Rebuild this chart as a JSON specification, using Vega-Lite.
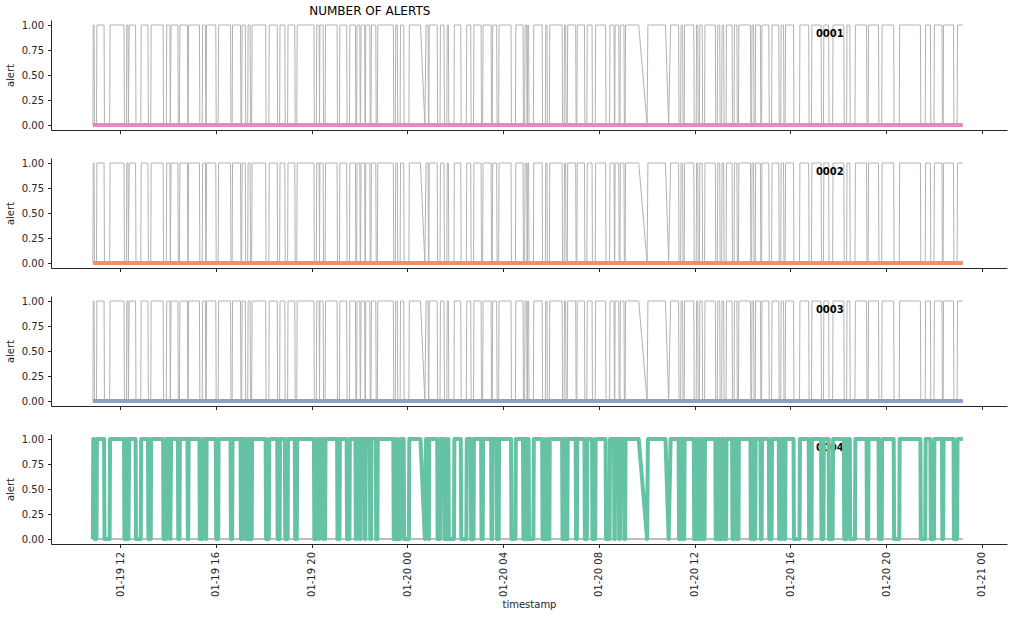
{
"data": {"name": "alerts"},
"datasets": {
"labels": [{"series": "0001"}, {"series": "0002"}, {"series": "0003"}, {"series": "0004"}],
"alerts": [
{"series":"0001","timestamp":"2023-01-19T10:52","alert":0},{"series":"0001","timestamp":"2023-01-20T23:12","alert":0},
{"series":"0002","timestamp":"2023-01-19T10:52","alert":0},{"series":"0002","timestamp":"2023-01-20T23:12","alert":0},
{"series":"0003","timestamp":"2023-01-19T10:52","alert":0},{"series":"0003","timestamp":"2023-01-20T23:12","alert":0},
{"series":"0004","timestamp":"2023-01-19T10:52","alert":0},
{"series":"0004","timestamp":"2023-01-19T10:53","alert":1},
{"series":"0004","timestamp":"2023-01-19T10:55","alert":1},
{"series":"0004","timestamp":"2023-01-19T10:56","alert":0},
{"series":"0004","timestamp":"2023-01-19T11:01","alert":0},
{"series":"0004","timestamp":"2023-01-19T11:02","alert":1},
{"series":"0004","timestamp":"2023-01-19T11:20","alert":1},
{"series":"0004","timestamp":"2023-01-19T11:21","alert":0},
{"series":"0004","timestamp":"2023-01-19T11:34","alert":0},
{"series":"0004","timestamp":"2023-01-19T11:35","alert":1},
{"series":"0004","timestamp":"2023-01-19T12:10","alert":1},
{"series":"0004","timestamp":"2023-01-19T12:11","alert":0},
{"series":"0004","timestamp":"2023-01-19T12:16","alert":0},
{"series":"0004","timestamp":"2023-01-19T12:17","alert":1},
{"series":"0004","timestamp":"2023-01-19T12:20","alert":1},
{"series":"0004","timestamp":"2023-01-19T12:21","alert":0},
{"series":"0004","timestamp":"2023-01-19T12:23","alert":1},
{"series":"0004","timestamp":"2023-01-19T12:39","alert":1},
{"series":"0004","timestamp":"2023-01-19T12:40","alert":0},
{"series":"0004","timestamp":"2023-01-19T12:52","alert":0},
{"series":"0004","timestamp":"2023-01-19T12:53","alert":1},
{"series":"0004","timestamp":"2023-01-19T13:10","alert":1},
{"series":"0004","timestamp":"2023-01-19T13:11","alert":0},
{"series":"0004","timestamp":"2023-01-19T13:17","alert":0},
{"series":"0004","timestamp":"2023-01-19T13:18","alert":1},
{"series":"0004","timestamp":"2023-01-19T13:48","alert":1},
{"series":"0004","timestamp":"2023-01-19T13:49","alert":0},
{"series":"0004","timestamp":"2023-01-19T13:56","alert":0},
{"series":"0004","timestamp":"2023-01-19T13:57","alert":1},
{"series":"0004","timestamp":"2023-01-19T14:05","alert":1},
{"series":"0004","timestamp":"2023-01-19T14:06","alert":0},
{"series":"0004","timestamp":"2023-01-19T14:08","alert":1},
{"series":"0004","timestamp":"2023-01-19T14:25","alert":1},
{"series":"0004","timestamp":"2023-01-19T14:26","alert":0},
{"series":"0004","timestamp":"2023-01-19T14:29","alert":0},
{"series":"0004","timestamp":"2023-01-19T14:30","alert":1},
{"series":"0004","timestamp":"2023-01-19T14:49","alert":1},
{"series":"0004","timestamp":"2023-01-19T14:50","alert":0},
{"series":"0004","timestamp":"2023-01-19T14:51","alert":0},
{"series":"0004","timestamp":"2023-01-19T14:52","alert":1},
{"series":"0004","timestamp":"2023-01-19T15:19","alert":1},
{"series":"0004","timestamp":"2023-01-19T15:20","alert":0},
{"series":"0004","timestamp":"2023-01-19T15:26","alert":0},
{"series":"0004","timestamp":"2023-01-19T15:27","alert":1},
{"series":"0004","timestamp":"2023-01-19T15:34","alert":1},
{"series":"0004","timestamp":"2023-01-19T15:35","alert":0},
{"series":"0004","timestamp":"2023-01-19T15:36","alert":0},
{"series":"0004","timestamp":"2023-01-19T15:37","alert":1},
{"series":"0004","timestamp":"2023-01-19T16:00","alert":1},
{"series":"0004","timestamp":"2023-01-19T16:01","alert":0},
{"series":"0004","timestamp":"2023-01-19T16:06","alert":0},
{"series":"0004","timestamp":"2023-01-19T16:07","alert":1},
{"series":"0004","timestamp":"2023-01-19T16:37","alert":1},
{"series":"0004","timestamp":"2023-01-19T16:38","alert":0},
{"series":"0004","timestamp":"2023-01-19T16:41","alert":0},
{"series":"0004","timestamp":"2023-01-19T16:42","alert":1},
{"series":"0004","timestamp":"2023-01-19T17:02","alert":1},
{"series":"0004","timestamp":"2023-01-19T17:03","alert":0},
{"series":"0004","timestamp":"2023-01-19T17:05","alert":0},
{"series":"0004","timestamp":"2023-01-19T17:06","alert":1},
{"series":"0004","timestamp":"2023-01-19T17:14","alert":1},
{"series":"0004","timestamp":"2023-01-19T17:15","alert":0},
{"series":"0004","timestamp":"2023-01-19T17:20","alert":0},
{"series":"0004","timestamp":"2023-01-19T17:21","alert":1},
{"series":"0004","timestamp":"2023-01-19T17:26","alert":1},
{"series":"0004","timestamp":"2023-01-19T17:27","alert":0},
{"series":"0004","timestamp":"2023-01-19T17:30","alert":0},
{"series":"0004","timestamp":"2023-01-19T17:31","alert":1},
{"series":"0004","timestamp":"2023-01-19T18:05","alert":1},
{"series":"0004","timestamp":"2023-01-19T18:06","alert":0},
{"series":"0004","timestamp":"2023-01-19T18:13","alert":0},
{"series":"0004","timestamp":"2023-01-19T18:14","alert":1},
{"series":"0004","timestamp":"2023-01-19T18:34","alert":1},
{"series":"0004","timestamp":"2023-01-19T18:35","alert":0},
{"series":"0004","timestamp":"2023-01-19T18:40","alert":0},
{"series":"0004","timestamp":"2023-01-19T18:41","alert":1},
{"series":"0004","timestamp":"2023-01-19T18:53","alert":1},
{"series":"0004","timestamp":"2023-01-19T18:54","alert":0},
{"series":"0004","timestamp":"2023-01-19T19:00","alert":0},
{"series":"0004","timestamp":"2023-01-19T19:01","alert":1},
{"series":"0004","timestamp":"2023-01-19T19:18","alert":1},
{"series":"0004","timestamp":"2023-01-19T19:19","alert":0},
{"series":"0004","timestamp":"2023-01-19T19:23","alert":0},
{"series":"0004","timestamp":"2023-01-19T19:24","alert":1},
{"series":"0004","timestamp":"2023-01-19T20:06","alert":1},
{"series":"0004","timestamp":"2023-01-19T20:07","alert":0},
{"series":"0004","timestamp":"2023-01-19T20:12","alert":0},
{"series":"0004","timestamp":"2023-01-19T20:13","alert":1},
{"series":"0004","timestamp":"2023-01-19T20:19","alert":1},
{"series":"0004","timestamp":"2023-01-19T20:20","alert":0},
{"series":"0004","timestamp":"2023-01-19T20:21","alert":1},
{"series":"0004","timestamp":"2023-01-19T20:29","alert":1},
{"series":"0004","timestamp":"2023-01-19T20:30","alert":0},
{"series":"0004","timestamp":"2023-01-19T20:34","alert":0},
{"series":"0004","timestamp":"2023-01-19T20:35","alert":1},
{"series":"0004","timestamp":"2023-01-19T21:04","alert":1},
{"series":"0004","timestamp":"2023-01-19T21:05","alert":0},
{"series":"0004","timestamp":"2023-01-19T21:10","alert":0},
{"series":"0004","timestamp":"2023-01-19T21:11","alert":1},
{"series":"0004","timestamp":"2023-01-19T21:28","alert":1},
{"series":"0004","timestamp":"2023-01-19T21:29","alert":0},
{"series":"0004","timestamp":"2023-01-19T21:35","alert":0},
{"series":"0004","timestamp":"2023-01-19T21:36","alert":1},
{"series":"0004","timestamp":"2023-01-19T21:50","alert":1},
{"series":"0004","timestamp":"2023-01-19T21:51","alert":0},
{"series":"0004","timestamp":"2023-01-19T21:53","alert":0},
{"series":"0004","timestamp":"2023-01-19T21:54","alert":1},
{"series":"0004","timestamp":"2023-01-19T22:01","alert":1},
{"series":"0004","timestamp":"2023-01-19T22:02","alert":0},
{"series":"0004","timestamp":"2023-01-19T22:03","alert":0},
{"series":"0004","timestamp":"2023-01-19T22:04","alert":1},
{"series":"0004","timestamp":"2023-01-19T22:13","alert":1},
{"series":"0004","timestamp":"2023-01-19T22:14","alert":0},
{"series":"0004","timestamp":"2023-01-19T22:15","alert":0},
{"series":"0004","timestamp":"2023-01-19T22:16","alert":1},
{"series":"0004","timestamp":"2023-01-19T22:26","alert":1},
{"series":"0004","timestamp":"2023-01-19T22:27","alert":0},
{"series":"0004","timestamp":"2023-01-19T22:29","alert":0},
{"series":"0004","timestamp":"2023-01-19T22:30","alert":1},
{"series":"0004","timestamp":"2023-01-19T22:41","alert":1},
{"series":"0004","timestamp":"2023-01-19T22:42","alert":0},
{"series":"0004","timestamp":"2023-01-19T22:45","alert":0},
{"series":"0004","timestamp":"2023-01-19T22:46","alert":1},
{"series":"0004","timestamp":"2023-01-19T23:25","alert":1},
{"series":"0004","timestamp":"2023-01-19T23:26","alert":0},
{"series":"0004","timestamp":"2023-01-19T23:30","alert":0},
{"series":"0004","timestamp":"2023-01-19T23:31","alert":1},
{"series":"0004","timestamp":"2023-01-19T23:35","alert":1},
{"series":"0004","timestamp":"2023-01-19T23:36","alert":0},
{"series":"0004","timestamp":"2023-01-19T23:42","alert":0},
{"series":"0004","timestamp":"2023-01-19T23:43","alert":1},
{"series":"0004","timestamp":"2023-01-19T23:51","alert":1},
{"series":"0004","timestamp":"2023-01-19T23:52","alert":0},
{"series":"0004","timestamp":"2023-01-20T00:04","alert":0},
{"series":"0004","timestamp":"2023-01-20T00:05","alert":1},
{"series":"0004","timestamp":"2023-01-20T00:33","alert":1},
{"series":"0004","timestamp":"2023-01-20T00:44","alert":0},
{"series":"0004","timestamp":"2023-01-20T00:47","alert":1},
{"series":"0004","timestamp":"2023-01-20T00:52","alert":1},
{"series":"0004","timestamp":"2023-01-20T00:53","alert":0},
{"series":"0004","timestamp":"2023-01-20T00:54","alert":0},
{"series":"0004","timestamp":"2023-01-20T00:55","alert":1},
{"series":"0004","timestamp":"2023-01-20T01:15","alert":1},
{"series":"0004","timestamp":"2023-01-20T01:16","alert":0},
{"series":"0004","timestamp":"2023-01-20T01:22","alert":0},
{"series":"0004","timestamp":"2023-01-20T01:23","alert":1},
{"series":"0004","timestamp":"2023-01-20T01:32","alert":1},
{"series":"0004","timestamp":"2023-01-20T01:33","alert":0},
{"series":"0004","timestamp":"2023-01-20T01:39","alert":0},
{"series":"0004","timestamp":"2023-01-20T01:40","alert":1},
{"series":"0004","timestamp":"2023-01-20T01:43","alert":1},
{"series":"0004","timestamp":"2023-01-20T01:44","alert":0},
{"series":"0004","timestamp":"2023-01-20T01:57","alert":0},
{"series":"0004","timestamp":"2023-01-20T01:58","alert":1},
{"series":"0004","timestamp":"2023-01-20T02:14","alert":1},
{"series":"0004","timestamp":"2023-01-20T02:15","alert":0},
{"series":"0004","timestamp":"2023-01-20T02:28","alert":0},
{"series":"0004","timestamp":"2023-01-20T02:29","alert":1},
{"series":"0004","timestamp":"2023-01-20T02:39","alert":1},
{"series":"0004","timestamp":"2023-01-20T02:40","alert":0},
{"series":"0004","timestamp":"2023-01-20T02:46","alert":0},
{"series":"0004","timestamp":"2023-01-20T02:47","alert":1},
{"series":"0004","timestamp":"2023-01-20T03:05","alert":1},
{"series":"0004","timestamp":"2023-01-20T03:06","alert":0},
{"series":"0004","timestamp":"2023-01-20T03:09","alert":0},
{"series":"0004","timestamp":"2023-01-20T03:10","alert":1},
{"series":"0004","timestamp":"2023-01-20T03:30","alert":1},
{"series":"0004","timestamp":"2023-01-20T03:31","alert":0},
{"series":"0004","timestamp":"2023-01-20T03:33","alert":0},
{"series":"0004","timestamp":"2023-01-20T03:34","alert":1},
{"series":"0004","timestamp":"2023-01-20T03:44","alert":1},
{"series":"0004","timestamp":"2023-01-20T03:45","alert":0},
{"series":"0004","timestamp":"2023-01-20T03:49","alert":0},
{"series":"0004","timestamp":"2023-01-20T03:50","alert":1},
{"series":"0004","timestamp":"2023-01-20T04:20","alert":1},
{"series":"0004","timestamp":"2023-01-20T04:21","alert":0},
{"series":"0004","timestamp":"2023-01-20T04:31","alert":0},
{"series":"0004","timestamp":"2023-01-20T04:32","alert":1},
{"series":"0004","timestamp":"2023-01-20T04:50","alert":1},
{"series":"0004","timestamp":"2023-01-20T04:51","alert":0},
{"series":"0004","timestamp":"2023-01-20T04:54","alert":0},
{"series":"0004","timestamp":"2023-01-20T04:55","alert":1},
{"series":"0004","timestamp":"2023-01-20T04:59","alert":1},
{"series":"0004","timestamp":"2023-01-20T05:00","alert":0},
{"series":"0004","timestamp":"2023-01-20T05:01","alert":0},
{"series":"0004","timestamp":"2023-01-20T05:02","alert":1},
{"series":"0004","timestamp":"2023-01-20T05:04","alert":1},
{"series":"0004","timestamp":"2023-01-20T05:05","alert":0},
{"series":"0004","timestamp":"2023-01-20T05:16","alert":0},
{"series":"0004","timestamp":"2023-01-20T05:17","alert":1},
{"series":"0004","timestamp":"2023-01-20T05:38","alert":1},
{"series":"0004","timestamp":"2023-01-20T05:39","alert":0},
{"series":"0004","timestamp":"2023-01-20T05:46","alert":0},
{"series":"0004","timestamp":"2023-01-20T05:47","alert":1},
{"series":"0004","timestamp":"2023-01-20T05:50","alert":1},
{"series":"0004","timestamp":"2023-01-20T05:51","alert":0},
{"series":"0004","timestamp":"2023-01-20T05:56","alert":0},
{"series":"0004","timestamp":"2023-01-20T05:57","alert":1},
{"series":"0004","timestamp":"2023-01-20T06:28","alert":1},
{"series":"0004","timestamp":"2023-01-20T06:29","alert":0},
{"series":"0004","timestamp":"2023-01-20T06:33","alert":0},
{"series":"0004","timestamp":"2023-01-20T06:34","alert":1},
{"series":"0004","timestamp":"2023-01-20T06:37","alert":1},
{"series":"0004","timestamp":"2023-01-20T06:38","alert":0},
{"series":"0004","timestamp":"2023-01-20T06:41","alert":0},
{"series":"0004","timestamp":"2023-01-20T06:42","alert":1},
{"series":"0004","timestamp":"2023-01-20T07:02","alert":1},
{"series":"0004","timestamp":"2023-01-20T07:03","alert":0},
{"series":"0004","timestamp":"2023-01-20T07:05","alert":0},
{"series":"0004","timestamp":"2023-01-20T07:06","alert":1},
{"series":"0004","timestamp":"2023-01-20T07:24","alert":1},
{"series":"0004","timestamp":"2023-01-20T07:25","alert":0},
{"series":"0004","timestamp":"2023-01-20T07:30","alert":0},
{"series":"0004","timestamp":"2023-01-20T07:31","alert":1},
{"series":"0004","timestamp":"2023-01-20T07:43","alert":1},
{"series":"0004","timestamp":"2023-01-20T07:44","alert":0},
{"series":"0004","timestamp":"2023-01-20T07:51","alert":0},
{"series":"0004","timestamp":"2023-01-20T07:52","alert":1},
{"series":"0004","timestamp":"2023-01-20T08:17","alert":1},
{"series":"0004","timestamp":"2023-01-20T08:18","alert":0},
{"series":"0004","timestamp":"2023-01-20T08:27","alert":0},
{"series":"0004","timestamp":"2023-01-20T08:28","alert":1},
{"series":"0004","timestamp":"2023-01-20T08:38","alert":1},
{"series":"0004","timestamp":"2023-01-20T08:39","alert":0},
{"series":"0004","timestamp":"2023-01-20T08:40","alert":0},
{"series":"0004","timestamp":"2023-01-20T08:41","alert":1},
{"series":"0004","timestamp":"2023-01-20T08:50","alert":1},
{"series":"0004","timestamp":"2023-01-20T08:51","alert":0},
{"series":"0004","timestamp":"2023-01-20T08:53","alert":0},
{"series":"0004","timestamp":"2023-01-20T08:54","alert":1},
{"series":"0004","timestamp":"2023-01-20T09:03","alert":1},
{"series":"0004","timestamp":"2023-01-20T09:04","alert":0},
{"series":"0004","timestamp":"2023-01-20T09:06","alert":0},
{"series":"0004","timestamp":"2023-01-20T09:07","alert":1},
{"series":"0004","timestamp":"2023-01-20T09:40","alert":1},
{"series":"0004","timestamp":"2023-01-20T10:01","alert":0},
{"series":"0004","timestamp":"2023-01-20T10:03","alert":1},
{"series":"0004","timestamp":"2023-01-20T10:47","alert":1},
{"series":"0004","timestamp":"2023-01-20T10:55","alert":0},
{"series":"0004","timestamp":"2023-01-20T11:00","alert":1},
{"series":"0004","timestamp":"2023-01-20T11:20","alert":1},
{"series":"0004","timestamp":"2023-01-20T11:21","alert":0},
{"series":"0004","timestamp":"2023-01-20T11:25","alert":0},
{"series":"0004","timestamp":"2023-01-20T11:26","alert":1},
{"series":"0004","timestamp":"2023-01-20T11:30","alert":1},
{"series":"0004","timestamp":"2023-01-20T11:31","alert":0},
{"series":"0004","timestamp":"2023-01-20T11:34","alert":0},
{"series":"0004","timestamp":"2023-01-20T11:35","alert":1},
{"series":"0004","timestamp":"2023-01-20T11:58","alert":1},
{"series":"0004","timestamp":"2023-01-20T11:59","alert":0},
{"series":"0004","timestamp":"2023-01-20T12:04","alert":0},
{"series":"0004","timestamp":"2023-01-20T12:05","alert":1},
{"series":"0004","timestamp":"2023-01-20T12:08","alert":1},
{"series":"0004","timestamp":"2023-01-20T12:09","alert":0},
{"series":"0004","timestamp":"2023-01-20T12:12","alert":0},
{"series":"0004","timestamp":"2023-01-20T12:13","alert":1},
{"series":"0004","timestamp":"2023-01-20T12:19","alert":1},
{"series":"0004","timestamp":"2023-01-20T12:20","alert":0},
{"series":"0004","timestamp":"2023-01-20T12:25","alert":0},
{"series":"0004","timestamp":"2023-01-20T12:26","alert":1},
{"series":"0004","timestamp":"2023-01-20T12:52","alert":1},
{"series":"0004","timestamp":"2023-01-20T12:53","alert":0},
{"series":"0004","timestamp":"2023-01-20T12:57","alert":0},
{"series":"0004","timestamp":"2023-01-20T12:58","alert":1},
{"series":"0004","timestamp":"2023-01-20T13:03","alert":1},
{"series":"0004","timestamp":"2023-01-20T13:04","alert":0},
{"series":"0004","timestamp":"2023-01-20T13:08","alert":0},
{"series":"0004","timestamp":"2023-01-20T13:09","alert":1},
{"series":"0004","timestamp":"2023-01-20T13:13","alert":1},
{"series":"0004","timestamp":"2023-01-20T13:14","alert":0},
{"series":"0004","timestamp":"2023-01-20T13:19","alert":0},
{"series":"0004","timestamp":"2023-01-20T13:20","alert":1},
{"series":"0004","timestamp":"2023-01-20T13:34","alert":1},
{"series":"0004","timestamp":"2023-01-20T13:35","alert":0},
{"series":"0004","timestamp":"2023-01-20T13:39","alert":0},
{"series":"0004","timestamp":"2023-01-20T13:40","alert":1},
{"series":"0004","timestamp":"2023-01-20T13:46","alert":1},
{"series":"0004","timestamp":"2023-01-20T13:47","alert":0},
{"series":"0004","timestamp":"2023-01-20T13:50","alert":0},
{"series":"0004","timestamp":"2023-01-20T13:51","alert":1},
{"series":"0004","timestamp":"2023-01-20T14:20","alert":1},
{"series":"0004","timestamp":"2023-01-20T14:21","alert":0},
{"series":"0004","timestamp":"2023-01-20T14:23","alert":0},
{"series":"0004","timestamp":"2023-01-20T14:24","alert":1},
{"series":"0004","timestamp":"2023-01-20T14:28","alert":1},
{"series":"0004","timestamp":"2023-01-20T14:29","alert":0},
{"series":"0004","timestamp":"2023-01-20T14:32","alert":0},
{"series":"0004","timestamp":"2023-01-20T14:33","alert":1},
{"series":"0004","timestamp":"2023-01-20T14:45","alert":1},
{"series":"0004","timestamp":"2023-01-20T14:46","alert":0},
{"series":"0004","timestamp":"2023-01-20T14:48","alert":0},
{"series":"0004","timestamp":"2023-01-20T14:49","alert":1},
{"series":"0004","timestamp":"2023-01-20T15:06","alert":1},
{"series":"0004","timestamp":"2023-01-20T15:07","alert":0},
{"series":"0004","timestamp":"2023-01-20T15:13","alert":0},
{"series":"0004","timestamp":"2023-01-20T15:14","alert":1},
{"series":"0004","timestamp":"2023-01-20T15:31","alert":1},
{"series":"0004","timestamp":"2023-01-20T15:32","alert":0},
{"series":"0004","timestamp":"2023-01-20T15:36","alert":0},
{"series":"0004","timestamp":"2023-01-20T15:37","alert":1},
{"series":"0004","timestamp":"2023-01-20T15:43","alert":1},
{"series":"0004","timestamp":"2023-01-20T15:44","alert":0},
{"series":"0004","timestamp":"2023-01-20T15:47","alert":0},
{"series":"0004","timestamp":"2023-01-20T15:48","alert":1},
{"series":"0004","timestamp":"2023-01-20T16:08","alert":1},
{"series":"0004","timestamp":"2023-01-20T16:09","alert":0},
{"series":"0004","timestamp":"2023-01-20T16:23","alert":0},
{"series":"0004","timestamp":"2023-01-20T16:24","alert":1},
{"series":"0004","timestamp":"2023-01-20T16:46","alert":1},
{"series":"0004","timestamp":"2023-01-20T16:47","alert":0},
{"series":"0004","timestamp":"2023-01-20T16:53","alert":0},
{"series":"0004","timestamp":"2023-01-20T16:54","alert":1},
{"series":"0004","timestamp":"2023-01-20T17:17","alert":1},
{"series":"0004","timestamp":"2023-01-20T17:18","alert":0},
{"series":"0004","timestamp":"2023-01-20T17:23","alert":0},
{"series":"0004","timestamp":"2023-01-20T17:24","alert":1},
{"series":"0004","timestamp":"2023-01-20T17:36","alert":1},
{"series":"0004","timestamp":"2023-01-20T17:37","alert":0},
{"series":"0004","timestamp":"2023-01-20T17:46","alert":0},
{"series":"0004","timestamp":"2023-01-20T17:47","alert":1},
{"series":"0004","timestamp":"2023-01-20T18:14","alert":1},
{"series":"0004","timestamp":"2023-01-20T18:15","alert":0},
{"series":"0004","timestamp":"2023-01-20T18:21","alert":0},
{"series":"0004","timestamp":"2023-01-20T18:22","alert":1},
{"series":"0004","timestamp":"2023-01-20T18:29","alert":1},
{"series":"0004","timestamp":"2023-01-20T18:30","alert":0},
{"series":"0004","timestamp":"2023-01-20T18:42","alert":0},
{"series":"0004","timestamp":"2023-01-20T18:43","alert":1},
{"series":"0004","timestamp":"2023-01-20T19:11","alert":1},
{"series":"0004","timestamp":"2023-01-20T19:12","alert":0},
{"series":"0004","timestamp":"2023-01-20T19:15","alert":0},
{"series":"0004","timestamp":"2023-01-20T19:16","alert":1},
{"series":"0004","timestamp":"2023-01-20T19:41","alert":1},
{"series":"0004","timestamp":"2023-01-20T19:42","alert":0},
{"series":"0004","timestamp":"2023-01-20T19:49","alert":0},
{"series":"0004","timestamp":"2023-01-20T19:50","alert":1},
{"series":"0004","timestamp":"2023-01-20T20:19","alert":1},
{"series":"0004","timestamp":"2023-01-20T20:20","alert":0},
{"series":"0004","timestamp":"2023-01-20T20:33","alert":0},
{"series":"0004","timestamp":"2023-01-20T20:34","alert":1},
{"series":"0004","timestamp":"2023-01-20T21:26","alert":1},
{"series":"0004","timestamp":"2023-01-20T21:27","alert":0},
{"series":"0004","timestamp":"2023-01-20T21:38","alert":0},
{"series":"0004","timestamp":"2023-01-20T21:39","alert":1},
{"series":"0004","timestamp":"2023-01-20T21:51","alert":1},
{"series":"0004","timestamp":"2023-01-20T21:52","alert":0},
{"series":"0004","timestamp":"2023-01-20T22:00","alert":0},
{"series":"0004","timestamp":"2023-01-20T22:01","alert":1},
{"series":"0004","timestamp":"2023-01-20T22:20","alert":1},
{"series":"0004","timestamp":"2023-01-20T22:21","alert":0},
{"series":"0004","timestamp":"2023-01-20T22:23","alert":0},
{"series":"0004","timestamp":"2023-01-20T22:24","alert":1},
{"series":"0004","timestamp":"2023-01-20T22:49","alert":1},
{"series":"0004","timestamp":"2023-01-20T22:50","alert":0},
{"series":"0004","timestamp":"2023-01-20T22:58","alert":0},
{"series":"0004","timestamp":"2023-01-20T22:59","alert":1},
{"series":"0004","timestamp":"2023-01-20T23:12","alert":1}
]
},
"spacing": 24,
"vconcat": [
{
"width": 956, "height": 110,
"title": {"text": "NUMBER OF ALERTS", "fontSize": 12, "fontWeight": "normal", "offset": 2, "anchor": "start", "dx": 304},
"layer": [
{"mark": {"type": "line", "color": "#b3b3b3", "strokeWidth": 1},
 "encoding": {
  "x": {"field": "timestamp", "type": "temporal", "scale": {"domain": [{"year": 2023, "month": 1, "date": 19, "hours": 9, "minutes": 7}, {"year": 2023, "month": 1, "date": 21, "hours": 1, "minutes": 3}]}, "axis": {"title": null, "labels": false, "values": [{"year": 2023, "month": 1, "date": 19, "hours": 12}, {"year": 2023, "month": 1, "date": 19, "hours": 16}, {"year": 2023, "month": 1, "date": 19, "hours": 20}, {"year": 2023, "month": 1, "date": 20, "hours": 0}, {"year": 2023, "month": 1, "date": 20, "hours": 4}, {"year": 2023, "month": 1, "date": 20, "hours": 8}, {"year": 2023, "month": 1, "date": 20, "hours": 12}, {"year": 2023, "month": 1, "date": 20, "hours": 16}, {"year": 2023, "month": 1, "date": 20, "hours": 20}, {"year": 2023, "month": 1, "date": 21, "hours": 0}]}},
  "y": {"field": "alert", "type": "quantitative", "scale": {"domain": [-0.05, 1.05], "nice": false, "zero": false}, "axis": {"values": [0, 0.25, 0.5, 0.75, 1], "format": ".2f", "title": "alert", "labelOverlap": false, "tickCount": 5}},
  "detail": {"field": "series", "type": "nominal"}}},
{"data": {"name": "labels"}, "transform": [{"filter": "datum.series === '0001'"}],
 "mark": {"type": "text", "fontWeight": "bold", "align": "left", "baseline": "alphabetic", "fontSize": 10, "color": "#000000"},
 "encoding": {"x": {"datum": {"year": 2023, "month": 1, "date": 20, "hours": 17, "minutes": 4}, "type": "temporal"}, "y": {"datum": 0.885, "type": "quantitative"}, "text": {"field": "series", "type": "nominal"}}},
{"transform": [{"filter": "datum.series === '0001'"}],
 "mark": {"type": "line", "color": "#e78ac3", "strokeWidth": 4, "strokeJoin": "round"},
 "encoding": {"x": {"field": "timestamp", "type": "temporal"}, "y": {"field": "alert", "type": "quantitative", "axis": {"values": [0, 0.25, 0.5, 0.75, 1], "format": ".2f", "title": "alert", "labelOverlap": false, "tickCount": 5}}}}
]
},
{
"width": 956, "height": 110,
"layer": [
{"mark": {"type": "line", "color": "#b3b3b3", "strokeWidth": 1},
 "encoding": {
  "x": {"field": "timestamp", "type": "temporal", "scale": {"domain": [{"year": 2023, "month": 1, "date": 19, "hours": 9, "minutes": 7}, {"year": 2023, "month": 1, "date": 21, "hours": 1, "minutes": 3}]}, "axis": {"title": null, "labels": false, "values": [{"year": 2023, "month": 1, "date": 19, "hours": 12}, {"year": 2023, "month": 1, "date": 19, "hours": 16}, {"year": 2023, "month": 1, "date": 19, "hours": 20}, {"year": 2023, "month": 1, "date": 20, "hours": 0}, {"year": 2023, "month": 1, "date": 20, "hours": 4}, {"year": 2023, "month": 1, "date": 20, "hours": 8}, {"year": 2023, "month": 1, "date": 20, "hours": 12}, {"year": 2023, "month": 1, "date": 20, "hours": 16}, {"year": 2023, "month": 1, "date": 20, "hours": 20}, {"year": 2023, "month": 1, "date": 21, "hours": 0}]}},
  "y": {"field": "alert", "type": "quantitative", "scale": {"domain": [-0.05, 1.05], "nice": false, "zero": false}, "axis": {"values": [0, 0.25, 0.5, 0.75, 1], "format": ".2f", "title": "alert", "labelOverlap": false, "tickCount": 5}},
  "detail": {"field": "series", "type": "nominal"}}},
{"data": {"name": "labels"}, "transform": [{"filter": "datum.series === '0002'"}],
 "mark": {"type": "text", "fontWeight": "bold", "align": "left", "baseline": "alphabetic", "fontSize": 10, "color": "#000000"},
 "encoding": {"x": {"datum": {"year": 2023, "month": 1, "date": 20, "hours": 17, "minutes": 4}, "type": "temporal"}, "y": {"datum": 0.885, "type": "quantitative"}, "text": {"field": "series", "type": "nominal"}}},
{"transform": [{"filter": "datum.series === '0002'"}],
 "mark": {"type": "line", "color": "#fc8d62", "strokeWidth": 4, "strokeJoin": "round"},
 "encoding": {"x": {"field": "timestamp", "type": "temporal"}, "y": {"field": "alert", "type": "quantitative", "axis": {"values": [0, 0.25, 0.5, 0.75, 1], "format": ".2f", "title": "alert", "labelOverlap": false, "tickCount": 5}}}}
]
},
{
"width": 956, "height": 110,
"layer": [
{"mark": {"type": "line", "color": "#b3b3b3", "strokeWidth": 1},
 "encoding": {
  "x": {"field": "timestamp", "type": "temporal", "scale": {"domain": [{"year": 2023, "month": 1, "date": 19, "hours": 9, "minutes": 7}, {"year": 2023, "month": 1, "date": 21, "hours": 1, "minutes": 3}]}, "axis": {"title": null, "labels": false, "values": [{"year": 2023, "month": 1, "date": 19, "hours": 12}, {"year": 2023, "month": 1, "date": 19, "hours": 16}, {"year": 2023, "month": 1, "date": 19, "hours": 20}, {"year": 2023, "month": 1, "date": 20, "hours": 0}, {"year": 2023, "month": 1, "date": 20, "hours": 4}, {"year": 2023, "month": 1, "date": 20, "hours": 8}, {"year": 2023, "month": 1, "date": 20, "hours": 12}, {"year": 2023, "month": 1, "date": 20, "hours": 16}, {"year": 2023, "month": 1, "date": 20, "hours": 20}, {"year": 2023, "month": 1, "date": 21, "hours": 0}]}},
  "y": {"field": "alert", "type": "quantitative", "scale": {"domain": [-0.05, 1.05], "nice": false, "zero": false}, "axis": {"values": [0, 0.25, 0.5, 0.75, 1], "format": ".2f", "title": "alert", "labelOverlap": false, "tickCount": 5}},
  "detail": {"field": "series", "type": "nominal"}}},
{"data": {"name": "labels"}, "transform": [{"filter": "datum.series === '0003'"}],
 "mark": {"type": "text", "fontWeight": "bold", "align": "left", "baseline": "alphabetic", "fontSize": 10, "color": "#000000"},
 "encoding": {"x": {"datum": {"year": 2023, "month": 1, "date": 20, "hours": 17, "minutes": 4}, "type": "temporal"}, "y": {"datum": 0.885, "type": "quantitative"}, "text": {"field": "series", "type": "nominal"}}},
{"transform": [{"filter": "datum.series === '0003'"}],
 "mark": {"type": "line", "color": "#8da0cb", "strokeWidth": 4, "strokeJoin": "round"},
 "encoding": {"x": {"field": "timestamp", "type": "temporal"}, "y": {"field": "alert", "type": "quantitative", "axis": {"values": [0, 0.25, 0.5, 0.75, 1], "format": ".2f", "title": "alert", "labelOverlap": false, "tickCount": 5}}}}
]
},
{
"width": 956, "height": 110,
"layer": [
{"mark": {"type": "line", "color": "#b3b3b3", "strokeWidth": 1},
 "encoding": {
  "x": {"field": "timestamp", "type": "temporal", "scale": {"domain": [{"year": 2023, "month": 1, "date": 19, "hours": 9, "minutes": 7}, {"year": 2023, "month": 1, "date": 21, "hours": 1, "minutes": 3}]}, "axis": {"title": "timestamp", "format": "%m-%d %H", "labelAngle": -90, "titlePadding": 3, "values": [{"year": 2023, "month": 1, "date": 19, "hours": 12}, {"year": 2023, "month": 1, "date": 19, "hours": 16}, {"year": 2023, "month": 1, "date": 19, "hours": 20}, {"year": 2023, "month": 1, "date": 20, "hours": 0}, {"year": 2023, "month": 1, "date": 20, "hours": 4}, {"year": 2023, "month": 1, "date": 20, "hours": 8}, {"year": 2023, "month": 1, "date": 20, "hours": 12}, {"year": 2023, "month": 1, "date": 20, "hours": 16}, {"year": 2023, "month": 1, "date": 20, "hours": 20}, {"year": 2023, "month": 1, "date": 21, "hours": 0}]}},
  "y": {"field": "alert", "type": "quantitative", "scale": {"domain": [-0.05, 1.05], "nice": false, "zero": false}, "axis": {"values": [0, 0.25, 0.5, 0.75, 1], "format": ".2f", "title": "alert", "labelOverlap": false, "tickCount": 5}},
  "detail": {"field": "series", "type": "nominal"}}},
{"data": {"name": "labels"}, "transform": [{"filter": "datum.series === '0004'"}],
 "mark": {"type": "text", "fontWeight": "bold", "align": "left", "baseline": "alphabetic", "fontSize": 10, "color": "#000000"},
 "encoding": {"x": {"datum": {"year": 2023, "month": 1, "date": 20, "hours": 17, "minutes": 4}, "type": "temporal"}, "y": {"datum": 0.885, "type": "quantitative"}, "text": {"field": "series", "type": "nominal"}}},
{"transform": [{"filter": "datum.series === '0004'"}],
 "mark": {"type": "line", "color": "#66c2a5", "strokeWidth": 4, "strokeJoin": "round"},
 "encoding": {"x": {"field": "timestamp", "type": "temporal"}, "y": {"field": "alert", "type": "quantitative", "axis": {"values": [0, 0.25, 0.5, 0.75, 1], "format": ".2f", "title": "alert", "labelOverlap": false, "tickCount": 5}}}}
]
}
],
"config": {
"view": {"stroke": null},
"axis": {"domainColor": "#262626", "tickColor": "#262626", "labelColor": "#262626", "titleColor": "#262626", "labelFont": "DejaVu Sans", "titleFont": "DejaVu Sans", "labelFontSize": 10, "titleFontSize": 10, "titleFontWeight": "normal", "tickSize": 3.5, "grid": false, "labelPadding": 4, "titlePadding": 6, "labelOverlap": false},
"title": {"font": "DejaVu Sans", "color": "#000000"},
"text": {"font": "DejaVu Sans"}
}
}
